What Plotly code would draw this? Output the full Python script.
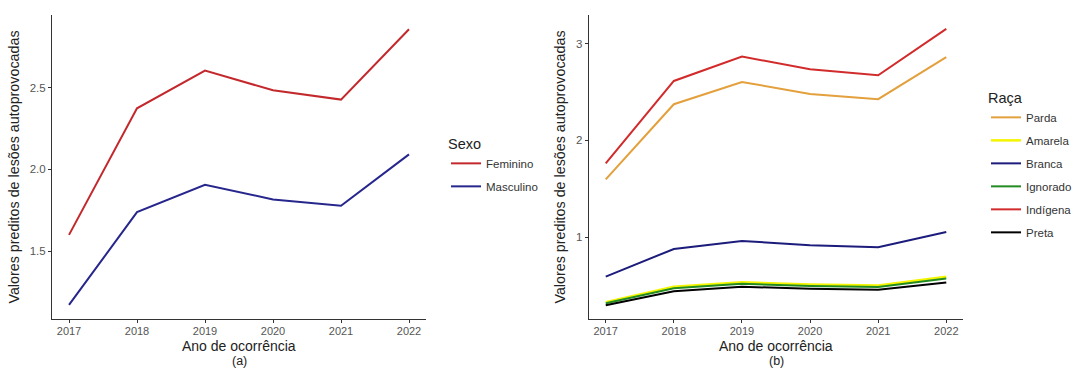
import plotly.graph_objects as go

# Predicted values of self-inflicted injuries by year
anos = [2017, 2018, 2019, 2020, 2021, 2022]

# Panel (a): by sex
sexo = ["Feminino", "Masculino"]
feminino = [1.60, 2.374, 2.604, 2.484, 2.427, 2.857]
masculino = [1.172, 1.739, 1.906, 1.817, 1.778, 2.092]
cores_sexo = ["#c3282c", "#26268c"]

# Panel (b): by race
raca = ["Parda", "Amarela", "Branca", "Ignorado", "Indígena", "Preta"]
parda = [1.598, 2.374, 2.604, 2.48, 2.426, 2.86]
amarela = [0.33, 0.489, 0.536, 0.512, 0.502, 0.592]
branca = [0.595, 0.88, 0.963, 0.918, 0.897, 1.056]
ignorado = [0.32, 0.475, 0.52, 0.498, 0.488, 0.575]
indigena = [1.763, 2.614, 2.866, 2.735, 2.673, 3.152]
preta = [0.30, 0.443, 0.49, 0.468, 0.458, 0.533]
cores_raca = ["#e3a03c", "#f5f500", "#1c1c7c", "#228b22", "#d22b2b", "#000000"]

W, H = 1084, 368
FONT = "Liberation Sans, Arial, sans-serif"

fig = go.Figure()

for nome, valores, cor in zip(sexo, [feminino, masculino], cores_sexo):
    fig.add_trace(go.Scatter(
        x=anos, y=valores, mode="lines", name=nome, legendgroup=nome,
        line=dict(color=cor, width=2), xaxis="x", yaxis="y", legend="legend"))

# draw order: lower lines first so the yellow stays visible under green/black
ordem = [2, 1, 3, 5, 0, 4]
series_raca = [parda, amarela, branca, ignorado, indigena, preta]
for i in ordem:
    fig.add_trace(go.Scatter(
        x=anos, y=series_raca[i], mode="lines", name=raca[i], legendgroup=raca[i],
        legendrank=i + 1,
        line=dict(color=cores_raca[i], width=2 if i != 1 else 2.5),
        xaxis="x2", yaxis="y2", legend="legend2"))

eixo_x = dict(
    showline=True, linecolor="#333333", linewidth=1, ticks="outside",
    ticklen=3, tickcolor="#333333", tickvals=anos, ticktext=[str(a) for a in anos],
    tickfont=dict(size=11, color="#555555", family=FONT), showgrid=False,
    zeroline=False, range=[2016.75, 2022.25], automargin=False,
    ticklabelstandoff=-1,
)
eixo_y = dict(
    showline=True, linecolor="#333333", linewidth=1, ticks="outside",
    ticklen=3, tickcolor="#333333",
    tickfont=dict(size=11.5, color="#555555", family=FONT), showgrid=False,
    zeroline=False, automargin=False,
    title=dict(text="Valores preditos de lesões autoprovocadas",
               font=dict(size=14.3, color="#222222", family=FONT), standoff=6),
)

y0, y1 = 1 - 319 / H, 1 - 15 / H
dom_a = [52 / W, 426 / W]
dom_b = [588.7 / W, 963.3 / W]

# x-axis titles with panel letters beneath
titulos = []
for dom, letra in [(dom_a, "(a)"), (dom_b, "(b)")]:
    cx = (dom[0] + dom[1]) / 2
    titulos.append(dict(text="Ano de ocorrência", x=cx, y=1 - 345.5 / H,
                        xref="paper", yref="paper", showarrow=False,
                        xanchor="center", yanchor="middle",
                        font=dict(size=14, color="#222222", family=FONT)))
    titulos.append(dict(text=letra, x=cx, y=1 - 360.5 / H,
                        xref="paper", yref="paper", showarrow=False,
                        xanchor="center", yanchor="middle",
                        font=dict(size=12.5, color="#222222", family=FONT)))

fig.update_layout(
    width=W, height=H,
    margin=dict(l=0, r=0, t=0, b=0),
    paper_bgcolor="white", plot_bgcolor="white",
    font=dict(family=FONT),
    annotations=titulos,
    xaxis=dict(eixo_x, domain=dom_a, anchor="y"),
    yaxis=dict(eixo_y, domain=[y0, y1], anchor="x", range=[1.086, 2.944],
               tickvals=[1.5, 2.0, 2.5], ticktext=["1.5", "2.0", "2.5"]),
    xaxis2=dict(eixo_x, domain=dom_b, anchor="y2"),
    yaxis2=dict(eixo_y, domain=[y0, y1], anchor="x2", range=[0.157, 3.295],
                tickvals=[1, 2, 3], ticktext=["1", "2", "3"]),
    legend=dict(
        title=dict(text="Sexo", font=dict(size=14.5, color="#222222")),
        font=dict(size=11.5, color="#333333"), x=446 / W, y=1 - 130 / H,
        xanchor="left", yanchor="top", bgcolor="rgba(0,0,0,0)",
        traceorder="grouped", tracegroupgap=4, itemwidth=30,
    ),
    legend2=dict(
        title=dict(text="Raça", font=dict(size=14.5, color="#222222")),
        font=dict(size=11.5, color="#333333"), x=986 / W, y=1 - 84 / H,
        xanchor="left", yanchor="top", bgcolor="rgba(0,0,0,0)",
        traceorder="grouped", tracegroupgap=4, itemwidth=30,
    ),
)

fig.write_html("out.html")
